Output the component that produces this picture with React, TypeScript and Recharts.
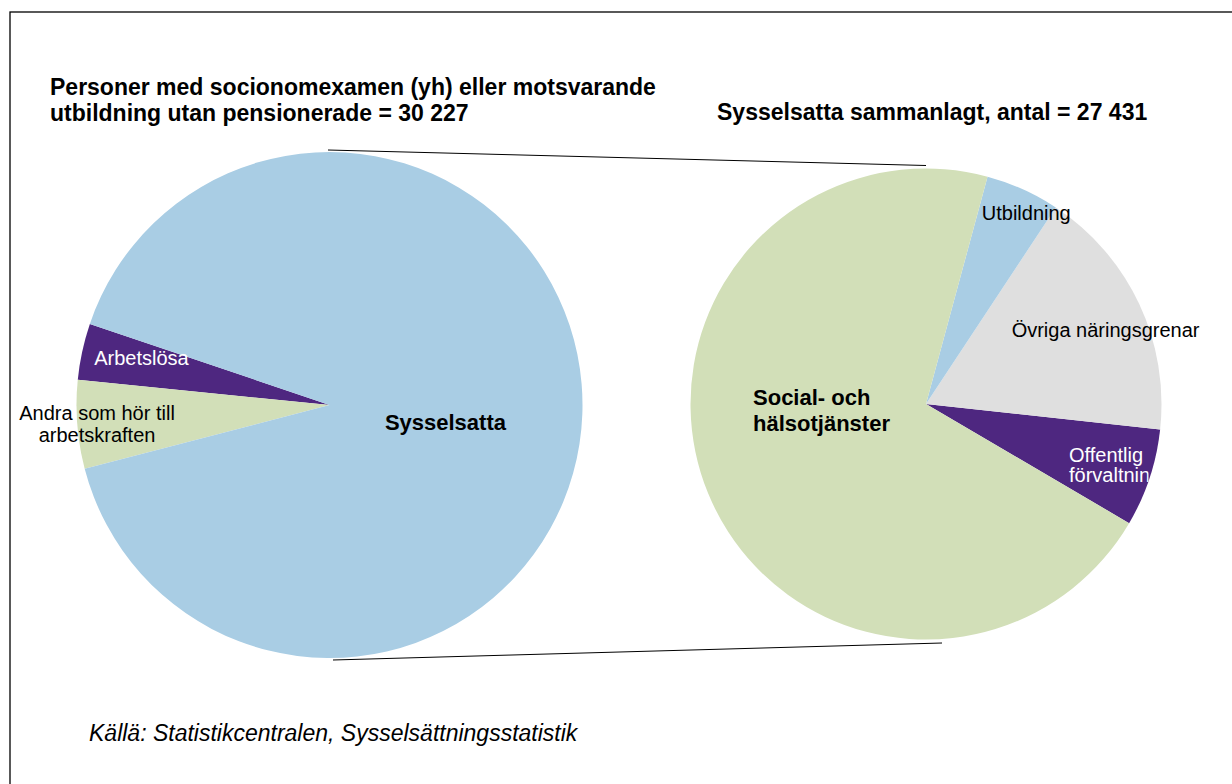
import { PieChart, Pie, Cell } from 'recharts'

const leftNames = ['Arbetslösa', 'Andra som hör till arbetskraften', 'Sysselsatta']
const leftValues = [1090, 1706, 27431]
const rightNames = ['Offentlig förvaltning', 'Övriga näringsgrenar', 'Utbildning', 'Social- och hälsotjänster']
const rightValues = [1845, 4780, 1395, 19411]

const leftTitle = ['Personer med socionomexamen (yh) eller motsvarande', 'utbildning utan pensionerade = 30 227']
const rightTitle = 'Sysselsatta sammanlagt, antal = 27 431'
const source = 'Källä: Statistikcentralen, Sysselsättningsstatistik'

const PURPLE = '#4E2780'
const GREEN = '#D2DFB8'
const BLUE = '#A9CDE4'
const GREY = '#DFDFDF'
const FONT = '"Liberation Sans", Arial, sans-serif'

const leftColors = [PURPLE, GREEN, BLUE]
const rightColors = [PURPLE, GREY, BLUE, GREEN]

const leftData = leftNames.map((name, i) => ({ name, value: leftValues[i] }))
const rightData = rightNames.map((name, i) => ({ name, value: rightValues[i] }))

// where each label sits: radius fraction + angle shift from the slice middle
const labelStyle: Record<string, any> = {
  'Arbetslösa': { lines: ['Arbetslösa'], rf: 0.766, da: -1.8, fill: '#fff', size: 20, lh: 22, anchor: 'middle' },
  'Andra som hör till arbetskraften': { lines: ['Andra som hör till', 'arbetskraften'], rf: 0.922, da: 0.3, fill: '#000', size: 20, lh: 22, anchor: 'middle' },
  'Sysselsatta': { lines: ['Sysselsatta'], rf: 0.463, da: -6.2, fill: '#000', size: 22, lh: 26, anchor: 'middle', bold: true },
  'Offentlig förvaltning': { lines: ['Offentlig', 'förvaltning'], rf: 0.66, da: -4.8, fill: '#fff', size: 20, lh: 20, anchor: 'start', clip: true },
  'Övriga näringsgrenar': { lines: ['Övriga näringsgrenar'], rf: 0.825, da: -2.75, fill: '#000', size: 20, lh: 22, anchor: 'middle' },
  'Utbildning': { lines: ['Utbildning'], rf: 0.916, da: -3.4, fill: '#000', size: 20, lh: 22, anchor: 'middle' },
  'Social- och hälsotjänster': { lines: ['Social- och', 'hälsotjänster'], rf: 0.735, da: -20.2, fill: '#000', size: 22, lh: 26, anchor: 'start', bold: true },
}

const RAD = Math.PI / 180

function renderLabel(props: any) {
  const { cx, cy, midAngle, outerRadius, name } = props
  const s = labelStyle[name]
  if (!s) return null
  const a = (midAngle + s.da) * RAD
  const x = cx + outerRadius * s.rf * Math.cos(a)
  const y = cy - outerRadius * s.rf * Math.sin(a)
  const n = s.lines.length
  const text = (
    <text
      x={x}
      y={y}
      fill={s.fill}
      fontSize={s.size}
      fontWeight={s.bold ? 'bold' : 'normal'}
      fontFamily={FONT}
      textAnchor={s.anchor}
    >
      {s.lines.map((line: string, i: number) => (
        <tspan key={i} x={x} y={y + (i - (n - 1) / 2) * s.lh + s.size * 0.35}>
          {line}
        </tspan>
      ))}
    </text>
  )
  if (!s.clip) return text
  return (
    <g>
      <defs>
        <clipPath id="offClip">
          <rect x={cx - outerRadius} y={cy - outerRadius} width={outerRadius * 1.945} height={outerRadius * 2} />
        </clipPath>
      </defs>
      <g clipPath="url(#offClip)">{text}</g>
    </g>
  )
}

export default function App() {
  return (
    <div style={{ position: 'absolute', left: 0, top: 0, width: 1232, height: 784, background: '#fff', overflow: 'hidden' }}>
      <PieChart width={1232} height={784} margin={{ top: 0, right: 0, bottom: 0, left: 0 }}>
        <Pie
          data={leftData}
          dataKey="value"
          nameKey="name"
          cx={329.5}
          cy={405}
          outerRadius={253}
          startAngle={161.3}
          endAngle={521.3}
          stroke="none"
          label={renderLabel}
          labelLine={false}
          isAnimationActive={false}
        >
          {leftData.map((d, i) => (
            <Cell key={d.name} fill={leftColors[i]} />
          ))}
        </Pie>
        <Pie
          data={rightData}
          dataKey="value"
          nameKey="name"
          cx={926}
          cy={404}
          outerRadius={235.5}
          startAngle={-30.4}
          endAngle={329.6}
          stroke="none"
          label={renderLabel}
          labelLine={false}
          isAnimationActive={false}
        >
          {rightData.map((d, i) => (
            <Cell key={d.name} fill={rightColors[i]} />
          ))}
        </Pie>
      </PieChart>
      <svg width={1232} height={784} style={{ position: 'absolute', left: 0, top: 0, pointerEvents: 'none' }}>
        {/* chart frame: only the top and left edges fall inside the picture */}
        <rect x={10} y={12} width={1240} height={800} fill="none" stroke="#000" strokeWidth={1.3} />
        <line x1={328} y1={150} x2={926} y2={165.5} stroke="#000" strokeWidth={1} />
        <line x1={333} y1={660} x2={942} y2={643} stroke="#000" strokeWidth={1} />
        <text fontFamily={FONT} fontWeight="bold" fontSize={23} fill="#000">
          <tspan x={50} y={95}>{leftTitle[0]}</tspan>
          <tspan x={50} y={121}>{leftTitle[1]}</tspan>
        </text>
        <text x={717} y={120} fontFamily={FONT} fontWeight="bold" fontSize={23} fill="#000">
          {rightTitle}
        </text>
        <text x={89} y={741} fontFamily={FONT} fontStyle="italic" fontSize={23} fill="#000">
          {source}
        </text>
      </svg>
    </div>
  )
}
